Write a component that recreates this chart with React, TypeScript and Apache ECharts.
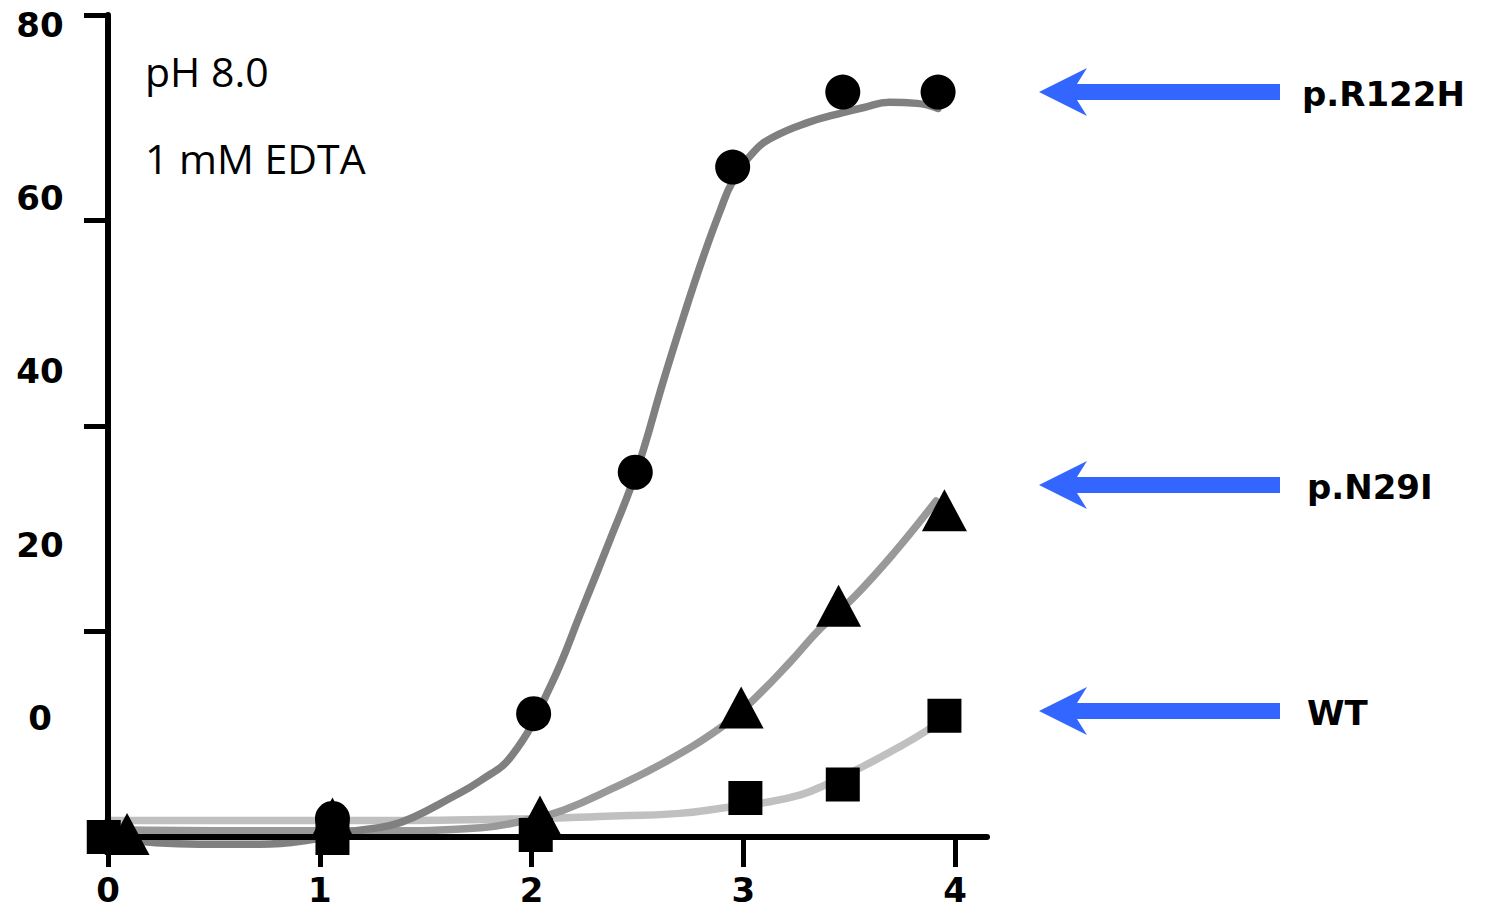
import React, { useEffect, useRef } from "react";
import * as echarts from "echarts";

// ---- data ----
const xTickValues = [0, 1, 2, 3, 4];
const yTickValues = [20, 40, 60, 80];
const yLabelValues = [0, 20, 40, 60, 80];

// fitted curves
const curveR122H: [number, number][] = [
  [0.0, -0.1], [0.43, -0.7], [0.72, -0.7], [0.95, -0.3], [1.14, 0.5], [1.33, 1.1],
  [1.44, 1.9], [1.6, 3.6], [1.76, 5.5], [1.91, 8.0], [2.09, 14.7], [2.24, 22.2],
  [2.37, 28.9], [2.47, 34.1], [2.53, 37.8], [2.62, 44.2], [2.72, 50.8], [2.81, 56.4],
  [2.89, 60.9], [2.95, 63.8], [3.05, 66.7], [3.14, 68.1], [3.3, 69.5], [3.47, 70.5],
  [3.57, 71.0], [3.69, 71.5], [3.82, 71.4], [3.92, 70.9],
];
const curveN29I: [number, number][] = [
  [0.0, 0.7], [0.67, 0.6], [1.28, 0.6], [1.76, 0.9], [1.99, 1.7], [2.15, 2.6],
  [2.38, 4.7], [2.64, 7.4], [2.89, 10.6], [3.03, 13.0], [3.22, 17.0], [3.36, 20.2],
  [3.53, 23.5], [3.71, 27.6], [3.91, 32.7],
];
const curveWT: [number, number][] = [
  [0.0, 1.6], [1.28, 1.6], [2.04, 1.8], [2.32, 2.0], [2.7, 2.3], [2.93, 2.9],
  [3.09, 3.3], [3.27, 4.1], [3.39, 5.1], [3.55, 6.7], [3.74, 8.8], [3.87, 10.4],
  [3.95, 11.6],
];

// measured points
const pointsR122H: [number, number][] = [
  [1.06, 1.8], [2.01, 12.0], [2.49, 35.5], [2.95, 65.2], [3.47, 72.5], [3.92, 72.5],
];
const pointsN29I: [number, number][] = [
  [0.09, 0.3], [1.06, 1.8], [2.04, 2.0], [2.99, 12.6], [3.45, 22.5], [3.95, 31.8],
];
const pointsWT: [number, number][] = [
  [-0.02, 0.0], [1.06, -0.1], [2.02, 0.2], [3.01, 3.8], [3.47, 5.1], [3.95, 11.8],
];

const seriesNames = ["p.R122H", "p.N29I", "WT"];
const conditionTexts = ["pH 8.0", "1 mM EDTA"];

const BOLD_FONT = "'DejaVu Sans', sans-serif";
const REG_FONT = "'Open Sans', sans-serif";

function arrowPoints(cy: number): number[][] {
  return [
    [1039, cy],
    [1087, cy - 24],
    [1077, cy - 8],
    [1280, cy - 8],
    [1280, cy + 8],
    [1077, cy + 8],
    [1087, cy + 24],
  ];
}

export default function App() {
  const ref = useRef<HTMLDivElement>(null);

  useEffect(() => {
    if (!ref.current) return;
    const chart = echarts.init(ref.current, null, { renderer: "svg" });

    const labelYs = [92, 485, 711];
    const graphic: any[] = [];
    seriesNames.forEach((name, i) => {
      graphic.push({
        type: "polygon",
        shape: { points: arrowPoints(labelYs[i]) },
        style: { fill: "#3366FF" },
        z: 10,
      });
      graphic.push({
        type: "text",
        x: i === 0 ? 1302 : 1307,
        y: labelYs[i] + 2,
        style: {
          text: name,
          fontFamily: BOLD_FONT,
          fontWeight: "bold",
          fontSize: 34,
          fill: "#000",
          align: "left",
          verticalAlign: "middle",
        },
        z: 10,
      });
    });
    conditionTexts.forEach((t, i) => {
      graphic.push({
        type: "text",
        x: 145,
        y: i === 0 ? 71 : 158,
        style: {
          text: t,
          fontFamily: REG_FONT,
          fontSize: 41,
          fill: "#000",
          align: "left",
          verticalAlign: "middle",
        },
        z: 10,
      });
    });

    const lineSeries = (data: [number, number][], color: string, z: number) => ({
      type: "line",
      data,
      smooth: 0.45,
      showSymbol: false,
      symbol: "none",
      clip: false,
      silent: true,
      z,
      lineStyle: { color, width: 7.5, cap: "round" },
    });

    const scatterSeries = (
      name: string,
      data: [number, number][],
      symbol: string,
      size: number | number[]
    ) => ({
      type: "scatter",
      name,
      data,
      symbol,
      symbolSize: size,
      clip: false,
      z: 5,
      itemStyle: { color: "#000", opacity: 1 },
    });

    chart.setOption({
      animation: false,
      backgroundColor: "#fff",
      grid: { left: 108, top: 15, width: 879, height: 822, containLabel: false },
      xAxis: {
        type: "value",
        min: 0,
        max: 4.151,
        z: 3,
        axisLine: { show: true, onZero: false, lineStyle: { color: "#000", width: 6 } },
        axisTick: {
          show: true,
          length: 30,
          customValues: xTickValues,
          lineStyle: { color: "#000", width: 5 },
        },
        axisLabel: {
          show: true,
          customValues: xTickValues,
          margin: 40,
          lineHeight: 26,
          fontFamily: BOLD_FONT,
          fontWeight: "bold",
          fontSize: 34,
          color: "#000",
        },
        splitLine: { show: false },
      },
      yAxis: [
        {
          type: "value",
          min: 0,
          max: 80,
          interval: 20,
          position: "left",
          z: 3,
          axisLine: { show: true, onZero: false, lineStyle: { color: "#000", width: 6 } },
          axisTick: {
            show: true,
            length: 24,
            customValues: yTickValues,
            lineStyle: { color: "#000", width: 5 },
          },
          axisLabel: { show: false },
          splitLine: { show: false },
        },
        {
          type: "value",
          min: -13.74,
          max: 81.15,
          position: "left",
          axisLine: { show: false },
          axisTick: { show: false },
          splitLine: { show: false },
          axisLabel: {
            show: true,
            customValues: yLabelValues,
            align: "center",
            margin: 68,
            fontFamily: BOLD_FONT,
            fontWeight: "bold",
            fontSize: 34,
            color: "#000",
          },
        },
      ],
      series: [
        lineSeries(curveWT, "#c0c0c0", 2),
        lineSeries(curveN29I, "#999999", 2),
        lineSeries(curveR122H, "#808080", 2),
        scatterSeries("WT", pointsWT, "rect", 34),
        scatterSeries("p.N29I", pointsN29I, "triangle", [45, 42]),
        scatterSeries("p.R122H", pointsR122H, "circle", 35),
      ],
      graphic,
    });

    return () => chart.dispose();
  }, []);

  return (
    <div
      ref={ref}
      style={{ position: "fixed", left: 0, top: 0, width: 1490, height: 911, background: "#fff" }}
    />
  );
}
